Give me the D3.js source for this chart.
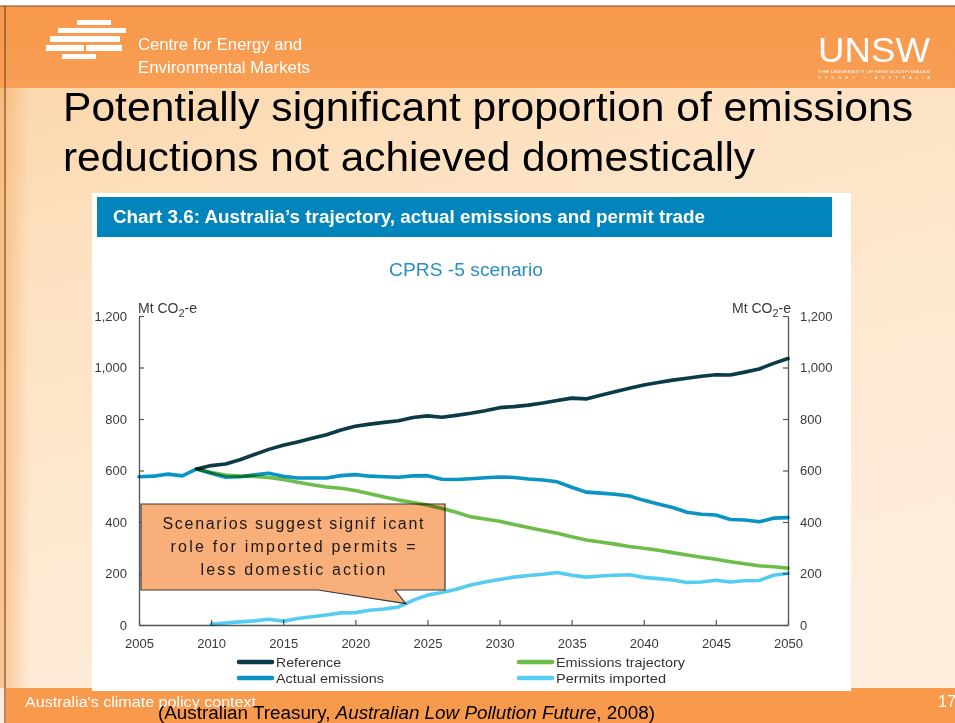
<!DOCTYPE html>
<html>
<head>
<meta charset="utf-8">
<script src="https://cdn.jsdelivr.net/npm/d3@7"></script>
<style>
  html, body { margin: 0; padding: 0; background: #fff; }
  svg { display: block; }
  .narrow { font-family: "Liberation Sans Narrow", "Arial Narrow", "Liberation Sans", sans-serif; }
</style>
</head>
<body>
<svg id="slide" width="955" height="723"></svg>
<script>
// ---- Data (Mt CO2-e) ----
const years = [2005, 2006, 2007, 2008, 2009, 2010, 2011, 2012, 2013, 2014,
               2015, 2016, 2017, 2018, 2019, 2020, 2021, 2022, 2023, 2024,
               2025, 2026, 2027, 2028, 2029, 2030, 2031, 2032, 2033, 2034,
               2035, 2036, 2037, 2038, 2039, 2040, 2041, 2042, 2043, 2044,
               2045, 2046, 2047, 2048, 2049, 2050];

const referenceValues = [null, null, null, null, 606,
  619, 625, 642, 662, 682, 698, 711, 725, 739, 757,
  772, 780, 787, 793, 806, 812, 807, 814, 822, 832,
  844, 848, 854, 862, 872, 881, 878, 892, 906, 919,
  932, 942, 951, 958, 966, 972, 971, 982, 994, 1016, 1035];

const actualValues = [576, 578, 586, 579, 606,
  589, 574, 576, 583, 589, 578, 571, 571, 571, 580,
  584, 578, 576, 574, 579, 580, 566, 565, 568, 572,
  575, 573, 567, 563, 556, 535, 516, 512, 508, 501,
  484, 470, 456, 438, 430, 427, 410, 408, 401, 415, 417];

const trajectoryValues = [null, null, null, null, 606,
  592, 582, 578, 577, 573, 565, 554, 545, 536, 531,
  522, 510, 497, 485, 476, 466, 452, 438, 420, 412,
  403, 390, 379, 367, 356, 343, 330, 322, 314, 305,
  298, 290, 281, 272, 263, 255, 246, 238, 230, 226, 221];

const permitValues = [null, null, null, null, null,
  3, 8, 12, 16, 22, 15, 25, 32, 39, 47,
  48, 57, 62, 70, 96, 116, 126, 139, 155, 167,
  177, 186, 192, 197, 204, 193, 186, 190, 193, 195,
  185, 180, 175, 165, 167, 174, 167, 172, 173, 193, 201];

const yTicks = [0, 200, 400, 600, 800, 1000, 1200];
const xTicks = [2005, 2010, 2015, 2020, 2025, 2030, 2035, 2040, 2045, 2050];

const seriesList = [
  { name: "Reference",            values: referenceValues,  color: "#0b3b48" },
  { name: "Actual emissions",     values: actualValues,     color: "#0a94c4" },
  { name: "Emissions trajectory", values: trajectoryValues, color: "#6dbd4b" },
  { name: "Permits imported",     values: permitValues,     color: "#55cdf3" }
];

const calloutLines = ["Scenarios suggest signif icant", "role for imported permits =", "less domestic action"];
const calloutYear = 2023.5;

// ---- Slide ----
const svg = d3.select("#slide");
const defs = svg.append("defs");

const bodyGrad = defs.append("linearGradient").attr("id", "bodyGrad")
  .attr("x1", 0).attr("y1", 0).attr("x2", 0.35).attr("y2", 1);
bodyGrad.append("stop").attr("offset", "0").attr("stop-color", "#fbd2a1");
bodyGrad.append("stop").attr("offset", "0.35").attr("stop-color", "#fde2c2");
bodyGrad.append("stop").attr("offset", "1").attr("stop-color", "#feeedd");

const edgeGrad = defs.append("linearGradient").attr("id", "edgeGrad")
  .attr("x1", 0).attr("y1", 0).attr("x2", 1).attr("y2", 0);
edgeGrad.append("stop").attr("offset", "0").attr("stop-color", "#f7a75e").attr("stop-opacity", 0.6);
edgeGrad.append("stop").attr("offset", "1").attr("stop-color", "#f7a75e").attr("stop-opacity", 0);

const headGrad = defs.append("linearGradient").attr("id", "headGrad")
  .attr("x1", 0).attr("y1", 0).attr("x2", 0).attr("y2", 1);
headGrad.append("stop").attr("offset", "0").attr("stop-color", "#f8984a");
headGrad.append("stop").attr("offset", "1").attr("stop-color", "#f89f55");

svg.append("rect").attr("width", 955).attr("height", 723).attr("fill", "url(#bodyGrad)");
svg.append("rect").attr("x", 0).attr("y", 88).attr("width", 30).attr("height", 600).attr("fill", "url(#edgeGrad)");

// header band
svg.append("rect").attr("x", 0).attr("y", 0).attr("width", 955).attr("height", 6).attr("fill", "#ffffff");
svg.append("rect").attr("x", 0).attr("y", 6).attr("width", 955).attr("height", 82).attr("fill", "url(#headGrad)");
svg.append("line").attr("x1", 0).attr("x2", 955).attr("y1", 6).attr("y2", 6).attr("stroke", "#7a4a22").attr("stroke-width", 1.2);
svg.append("line").attr("x1", 5).attr("x2", 5).attr("y1", 6).attr("y2", 723).attr("stroke", "#7a4a22").attr("stroke-width", 1.2);

// centre logo: staggered white bars
const logoBars = [[77, 20, 34, 5], [58, 28, 40, 5], [98, 28, 28, 5], [50, 36, 70, 6],
                  [46, 45, 38, 6], [86, 45, 36, 6], [62, 54, 34, 5]];
svg.append("g").selectAll("rect").data(logoBars).join("rect")
  .attr("x", d => d[0]).attr("y", d => d[1]).attr("width", d => d[2]).attr("height", d => d[3])
  .attr("fill", "#ffffff");
svg.append("text").attr("class", "narrow").attr("x", 138).attr("y", 50)
  .attr("font-size", 16).attr("fill", "#fff").attr("textLength", 164).attr("lengthAdjust", "spacingAndGlyphs")
  .text("Centre for Energy and");
svg.append("text").attr("class", "narrow").attr("x", 138).attr("y", 73)
  .attr("font-size", 16).attr("fill", "#fff").attr("textLength", 172).attr("lengthAdjust", "spacingAndGlyphs")
  .text("Environmental Markets");

// UNSW mark
svg.append("text").attr("class", "narrow").attr("x", 818).attr("y", 62)
  .attr("font-size", 35).attr("fill", "#fff").attr("textLength", 112).attr("lengthAdjust", "spacingAndGlyphs")
  .text("UNSW");
svg.append("text").attr("x", 818).attr("y", 73).attr("font-family", "Liberation Sans, sans-serif")
  .attr("font-size", 4).attr("fill", "#fff").attr("textLength", 112).attr("lengthAdjust", "spacingAndGlyphs")
  .text("THE UNIVERSITY OF NEW SOUTH WALES");
svg.append("text").attr("x", 818).attr("y", 79).attr("font-family", "Liberation Sans, sans-serif")
  .attr("font-size", 4).attr("fill", "#fff").attr("textLength", 112).attr("lengthAdjust", "spacing")
  .text("SYDNEY • AUSTRALIA");

// slide headline
svg.append("text").attr("x", 63).attr("y", 121).attr("font-family", "Liberation Sans, Arial, sans-serif")
  .attr("font-size", 41).attr("fill", "#000").attr("textLength", 850).attr("lengthAdjust", "spacingAndGlyphs")
  .text("Potentially significant proportion of emissions");
svg.append("text").attr("x", 63).attr("y", 171).attr("font-family", "Liberation Sans, Arial, sans-serif")
  .attr("font-size", 41).attr("fill", "#000").attr("textLength", 692).attr("lengthAdjust", "spacingAndGlyphs")
  .text("reductions not achieved domestically");

// footer band
svg.append("rect").attr("x", 6).attr("y", 688).attr("width", 949).attr("height", 35).attr("fill", "#f8994b");

// chart panel
svg.append("rect").attr("x", 92).attr("y", 193).attr("width", 759).attr("height", 498).attr("fill", "#ffffff");
svg.append("rect").attr("x", 97).attr("y", 197).attr("width", 735).attr("height", 40).attr("fill", "#0285bd");
svg.append("text").attr("x", 113).attr("y", 223).attr("font-family", "Liberation Sans, Arial, sans-serif")
  .attr("font-weight", "bold").attr("font-size", 18).attr("fill", "#fff")
  .attr("textLength", 592).attr("lengthAdjust", "spacingAndGlyphs")
  .text("Chart 3.6: Australia\u2019s trajectory, actual emissions and permit trade");
svg.append("text").attr("x", 466).attr("y", 276).attr("text-anchor", "middle")
  .attr("font-family", "Liberation Sans, Arial, sans-serif").attr("font-size", 19).attr("fill", "#2b8dc4")
  .attr("textLength", 154).attr("lengthAdjust", "spacingAndGlyphs")
  .text("CPRS -5 scenario");

// ---- Chart ----
const x = d3.scaleLinear().domain([2005, 2050]).range([139, 788]);
const y = d3.scaleLinear().domain([0, 1200]).range([625, 316]);

const axisFont = "Liberation Sans, Arial, sans-serif";
function styleAxis(g) {
  g.select(".domain").attr("stroke", "#555").attr("stroke-width", 1.3);
  g.selectAll(".tick line").attr("stroke", "#555").attr("stroke-width", 1.2);
  g.selectAll(".tick text").attr("fill", "#3a3a3a").attr("font-size", 13).attr("font-family", axisFont);
}

svg.append("g").attr("transform", "translate(139,0)")
  .call(d3.axisLeft(y).tickValues(yTicks).tickFormat(d3.format(",")).tickSizeInner(-5).tickSizeOuter(0).tickPadding(12))
  .call(styleAxis);
svg.append("g").attr("transform", "translate(788,0)")
  .call(d3.axisRight(y).tickValues(yTicks).tickFormat(d3.format(",")).tickSizeInner(-5).tickSizeOuter(0).tickPadding(12))
  .call(styleAxis);
svg.append("g").attr("transform", "translate(0,625)")
  .call(d3.axisBottom(x).tickValues(xTicks).tickFormat(d3.format("d")).tickSizeInner(-5).tickSizeOuter(0).tickPadding(14))
  .call(styleAxis);

// unit labels
function unitLabel(xPos, anchor) {
  const t = svg.append("text").attr("x", xPos).attr("y", 313).attr("text-anchor", anchor)
    .attr("font-family", axisFont).attr("font-size", 14).attr("fill", "#3a3a3a");
  t.append("tspan").text("Mt CO");
  t.append("tspan").attr("font-size", 11).attr("dy", 4).text("2");
  t.append("tspan").attr("dy", -4).text("-e");
}
unitLabel(138, "start");
unitLabel(791, "end");

// callout box with pointer toward the permits line
const tipIdx = years.indexOf(Math.floor(calloutYear));
const tipValue = (permitValues[tipIdx] + permitValues[tipIdx + 1]) / 2;
const tipX = x(calloutYear), tipY = y(tipValue);
const bx0 = 141, bx1 = 445, by0 = 504, by1 = 590;
const calloutPath = d3.path();
calloutPath.moveTo(bx0, by0);
calloutPath.lineTo(bx1, by0);
calloutPath.lineTo(bx1, by1);
calloutPath.lineTo(395, by1);
calloutPath.lineTo(tipX, tipY);
calloutPath.lineTo(318, by1);
calloutPath.lineTo(bx0, by1);
calloutPath.closePath();
svg.append("path").attr("d", calloutPath.toString())
  .attr("fill", "#f9af79").attr("stroke", "#3a3a3a").attr("stroke-width", 1.2).attr("stroke-linejoin", "miter");

const calloutWidths = [261, 245, 185];
svg.append("g").selectAll("text").data(calloutLines).join("text")
  .attr("x", 293).attr("y", (d, i) => 529 + i * 23).attr("text-anchor", "middle")
  .attr("font-family", "Liberation Sans, Arial, sans-serif").attr("font-size", 16).attr("fill", "#1a1a1a")
  .attr("textLength", (d, i) => calloutWidths[i]).attr("lengthAdjust", "spacing")
  .text(d => d);

// series lines
const line = d3.line()
  .defined(d => d.v !== null)
  .x(d => x(d.year))
  .y(d => y(d.v));

svg.append("g").selectAll("path").data(seriesList).join("path")
  .attr("d", s => line(years.map((yr, i) => ({ year: yr, v: s.values[i] }))))
  .attr("fill", "none")
  .attr("stroke", s => s.color)
  .attr("stroke-width", 3.6)
  .attr("stroke-linejoin", "round")
  .attr("stroke-linecap", "round")
  .style("mix-blend-mode", "multiply");

// legend
const legendPos = [[237, 662], [517, 662], [237, 678], [517, 678]];
const legendOrder = [0, 2, 1, 3];
const legendWidths = { "Reference": 65, "Emissions trajectory": 129, "Actual emissions": 108, "Permits imported": 110 };
const legend = svg.append("g").selectAll("g").data(legendOrder.map(i => seriesList[i])).join("g")
  .attr("transform", (d, i) => `translate(${legendPos[i][0]},${legendPos[i][1]})`);
legend.append("line").attr("x1", 2).attr("x2", 35).attr("y1", 0).attr("y2", 0)
  .attr("stroke", d => d.color).attr("stroke-width", 4.5).attr("stroke-linecap", "round");
legend.append("text").attr("class", "narrow").attr("x", 39).attr("y", 5)
  .attr("font-size", 13.5).attr("fill", "#333")
  .attr("textLength", d => legendWidths[d.name]).attr("lengthAdjust", "spacingAndGlyphs")
  .text(d => d.name);

// footer texts
svg.append("text").attr("class", "narrow").attr("x", 25).attr("y", 707)
  .attr("font-size", 14).attr("fill", "#fff").attr("textLength", 231).attr("lengthAdjust", "spacingAndGlyphs")
  .text("Australia's climate policy context");
const cite = svg.append("text").attr("class", "narrow").attr("x", 158).attr("y", 719)
  .attr("font-size", 18).attr("fill", "#000")
  .attr("textLength", 497).attr("lengthAdjust", "spacingAndGlyphs");
cite.append("tspan").text("(Australian Treasury, ");
cite.append("tspan").attr("font-style", "italic").text("Australian Low Pollution Future");
cite.append("tspan").text(", 2008)");
svg.append("text").attr("class", "narrow").attr("x", 938).attr("y", 707)
  .attr("font-size", 16).attr("fill", "#fff").text("17");
</script>
</body>
</html>
